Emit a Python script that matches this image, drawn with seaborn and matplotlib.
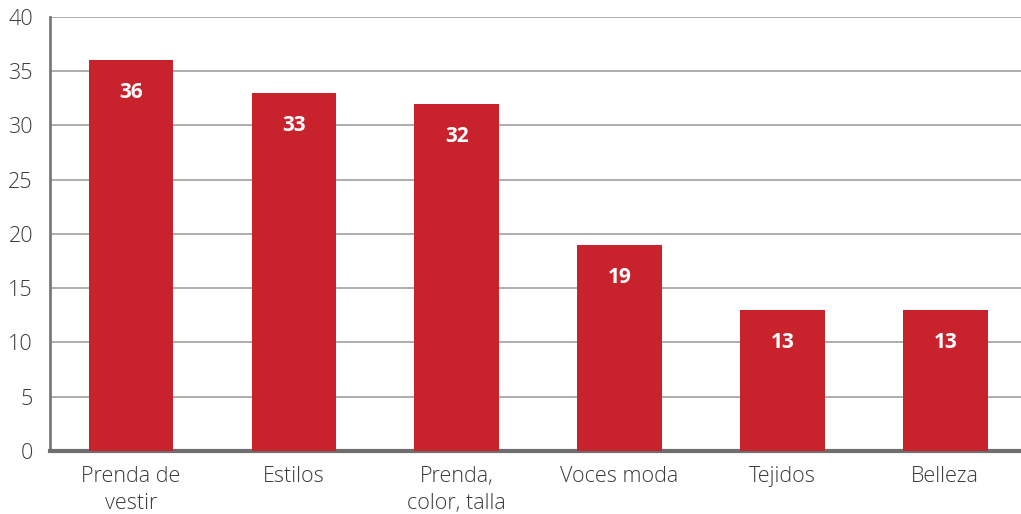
import matplotlib
matplotlib.use("Agg")
import matplotlib.pyplot as plt
import seaborn as sns
import pandas as pd

# datos
categorias = ["Prenda de\nvestir", "Estilos", "Prenda,\ncolor, talla", "Voces moda", "Tejidos", "Belleza"]
valores = [36, 33, 32, 19, 13, 13]
ticks_y = [0, 5, 10, 15, 20, 25, 30, 35, 40]

df = pd.DataFrame({"categoria": categorias, "valor": valores})

sns.set_theme(style="white")
plt.rcParams["font.family"] = ["Open Sans", "DejaVu Sans"]

fig = plt.figure(figsize=(10.21, 5.14), dpi=100)
ax = fig.add_axes([0.0486, 0.1226, 0.957, 0.8444])

sns.barplot(data=df, x="categoria", y="valor", color="#C8232C", width=0.52,
            saturation=1, linewidth=0, ax=ax, zorder=3)

ax.set_ylim(0, 40)
ax.set_yticks(ticks_y)
ax.set_xlim(-0.5, len(categorias) - 0.5)
ax.yaxis.grid(True, color="#a0a0a0", linewidth=1.2, zorder=0)
ax.set_axisbelow(True)

for s in ["top", "right"]:
    ax.spines[s].set_visible(False)
ax.spines["left"].set_color("#7a7a7a")
ax.spines["left"].set_linewidth(2)
ax.spines["bottom"].set_color("#6e6e6e")
ax.spines["bottom"].set_linewidth(3)

ax.tick_params(axis="both", length=0, labelsize=15.5, labelcolor="#3a3a3a")
ax.tick_params(axis="y", pad=12)
ax.tick_params(axis="x", pad=11)
for t in ax.get_xticklabels() + ax.get_yticklabels():
    t.set_fontweight("light")
for t in ax.get_xticklabels():
    t.set_linespacing(1.35)
ax.set_xlabel("")
ax.set_ylabel("")

# etiquetas dentro de las barras
for p, v in zip(ax.patches, valores):
    ax.annotate(str(v), (p.get_x() + p.get_width() / 2, p.get_height()),
                xytext=(0, -31), textcoords="offset points",
                ha="center", va="bottom", color="white",
                fontsize=15, fontweight="bold")

plt.savefig("out.png", dpi=100)
